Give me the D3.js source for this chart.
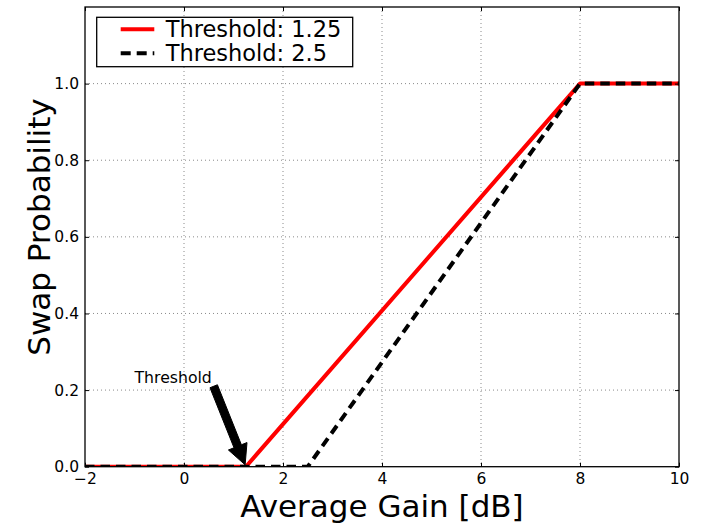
<!DOCTYPE html>
<html>
<head>
<meta charset="utf-8">
<script src="https://cdn.jsdelivr.net/npm/d3@7"></script>
<style>
  html, body { margin: 0; padding: 0; background: #fff; }
  svg { display: block; font-family: "DejaVu Sans", sans-serif; }
</style>
</head>
<body>
<svg id="chart" width="707" height="525"></svg>
<script>
// Swap probability as a function of average gain, for two thresholds
const gainLow = [-2, 1.25, 8, 10];
const probLow = [0, 0, 1, 1];
const gainHigh = [-2, 2.5, 8, 10];
const probHigh = [0, 0, 1, 1];
const seriesNames = ["Threshold: 1.25", "Threshold: 2.5"];
const xTicks = [-2, 0, 2, 4, 6, 8, 10];
const yTicks = [0, 0.2, 0.4, 0.6, 0.8, 1.0];
const annotationText = "Threshold";
const annotationPoint = [1.25, 0];
const annotationTail = [0.6, 0.21];
const annotationLabelAt = [-1, 0.219];

const svg = d3.select("#chart");
const m = { left: 85, right: 679, top: 7, bottom: 466.7 };
const x = d3.scaleLinear().domain([-2, 10]).range([m.left, m.right]);
const y = d3.scaleLinear().domain([0, 1.2]).range([m.bottom, m.top]);
const W = m.right - m.left, H = m.bottom - m.top;

svg.append("defs").append("clipPath").attr("id", "plotclip")
  .append("rect").attr("x", m.left).attr("y", m.top).attr("width", W).attr("height", H);

// dotted grid
const grid = svg.append("g");
grid.selectAll("line.gx").data(xTicks.slice(1, -1)).join("line")
  .attr("x1", d => x(d)).attr("x2", d => x(d)).attr("y1", m.top).attr("y2", m.bottom)
  .attr("stroke", "#8a8a8a").attr("stroke-width", 1).attr("stroke-dasharray", "1,3");
grid.selectAll("line.gy").data(yTicks.slice(1)).join("line")
  .attr("y1", d => y(d)).attr("y2", d => y(d)).attr("x1", m.left).attr("x2", m.right)
  .attr("stroke", "#8a8a8a").attr("stroke-width", 1).attr("stroke-dasharray", "1,3");

// curves
const line = d3.line().x(d => x(d[0])).y(d => y(d[1]));
const plot = svg.append("g").attr("clip-path", "url(#plotclip)");
plot.append("path").datum(d3.zip(gainLow, probLow)).attr("d", line)
  .attr("fill", "none").attr("stroke", "#ff0000").attr("stroke-width", 4)
  .attr("stroke-linejoin", "round");
plot.append("path").datum(d3.zip(gainHigh, probHigh)).attr("d", line)
  .attr("fill", "none").attr("stroke", "#000").attr("stroke-width", 4)
  .attr("stroke-dasharray", "9.5,6");

// axes: inward ticks on all four sides
const tickFont = "15.5px";
const bottomAxis = svg.append("g").attr("transform", `translate(0,${m.bottom})`)
  .call(d3.axisBottom(x).tickValues(xTicks).tickSizeInner(-4).tickSizeOuter(0).tickPadding(6.5)
    .tickFormat(d => d < 0 ? "\u2212" + Math.abs(d) : d));
const topAxis = svg.append("g").attr("transform", `translate(0,${m.top})`)
  .call(d3.axisTop(x).tickValues(xTicks).tickSizeInner(-4).tickSizeOuter(0).tickFormat(""));
const leftAxis = svg.append("g").attr("transform", `translate(${m.left},0)`)
  .call(d3.axisLeft(y).tickValues(yTicks).tickSizeInner(-4).tickSizeOuter(0).tickPadding(6)
    .tickFormat(d3.format(".1f")));
const rightAxis = svg.append("g").attr("transform", `translate(${m.right},0)`)
  .call(d3.axisRight(y).tickValues(yTicks).tickSizeInner(-4).tickSizeOuter(0).tickFormat(""));
[bottomAxis, topAxis, leftAxis, rightAxis].forEach(a => {
  a.select(".domain").remove();
  a.selectAll(".tick line").attr("stroke", "#000").attr("stroke-width", 1);
  a.selectAll(".tick text").attr("fill", "#000").style("font-size", tickFont)
    .style("font-family", "DejaVu Sans, sans-serif");
});

// frame
svg.append("rect").attr("x", m.left).attr("y", m.top).attr("width", W).attr("height", H)
  .attr("fill", "none").attr("stroke", "#000").attr("stroke-width", 1.3);

// axis titles
svg.append("text").attr("x", (m.left + m.right) / 2).attr("y", 517)
  .attr("text-anchor", "middle").style("font-size", "31px").text("Average Gain [dB]");
svg.append("text").attr("transform", "translate(50,227) rotate(-90)")
  .attr("text-anchor", "middle").style("font-size", "31px").text("Swap Probability");

// annotation with arrow
svg.append("text").attr("x", x(annotationLabelAt[0])).attr("y", y(annotationLabelAt[1]))
  .style("font-size", "15.7px").text(annotationText);
(function () {
  const tail = [x(annotationTail[0]), y(annotationTail[1])];
  const tipRaw = [x(annotationPoint[0]), y(annotationPoint[1])];
  const dx = tipRaw[0] - tail[0], dy = tipRaw[1] - tail[1];
  const len = Math.hypot(dx, dy);
  const u = [dx / len, dy / len], n = [-u[1], u[0]];
  const tip = [tipRaw[0] - u[0] * 2, tipRaw[1] - u[1] * 2];
  const bodyHalf = 4, headHalf = 10, headLen = 20;
  const neck = [tip[0] - u[0] * headLen, tip[1] - u[1] * headLen];
  const p = (b, s) => [b[0] + n[0] * s, b[1] + n[1] * s];
  const pts = [p(tail, bodyHalf), p(neck, bodyHalf), p(neck, headHalf), tip,
               p(neck, -headHalf), p(neck, -bodyHalf), p(tail, -bodyHalf)];
  svg.append("polygon").attr("points", pts.map(q => q.join(",")).join(" "))
    .attr("fill", "#000").attr("stroke", "#000").attr("stroke-width", 1);
})();

// legend
const legend = svg.append("g");
legend.append("rect").attr("x", 96.7).attr("y", 17.3).attr("width", 256).attr("height", 49.4)
  .attr("fill", "#fff").attr("stroke", "#000").attr("stroke-width", 1.3);
const legendRows = [
  { name: seriesNames[0], color: "#ff0000", dash: null, cy: 29.3 },
  { name: seriesNames[1], color: "#000", dash: "10,6", cy: 53.3 }
];
legendRows.forEach(r => {
  legend.append("line").attr("x1", 120.7).attr("x2", 154.3).attr("y1", r.cy).attr("y2", r.cy)
    .attr("stroke", r.color).attr("stroke-width", 4).attr("stroke-dasharray", r.dash);
  legend.append("text").attr("x", 165.7).attr("y", r.cy + 8).style("font-size", "22.5px").text(r.name);
});
</script>
</body>
</html>
